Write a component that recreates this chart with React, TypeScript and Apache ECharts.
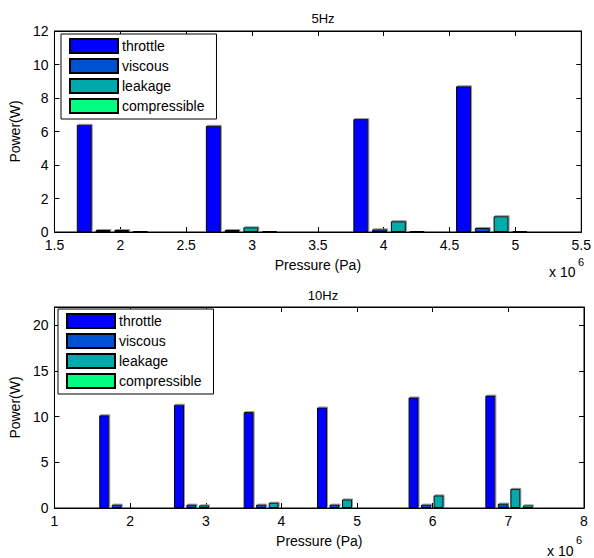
import React, { useEffect, useRef } from "react";
import * as echarts from "echarts";

// ---- data ----
const seriesNames = ["throttle", "viscous", "leakage", "compressible"];
const seriesColors = ["#0000FF", "#0050D2", "#00AAAA", "#00FF80"];

// 5 Hz (pressure in Pa, power in W)
const pressures5Hz = [1.94e6, 2.92e6, 4.04e6, 4.82e6];
const throttle5Hz = [6.4, 6.34, 6.74, 8.7];
const viscous5Hz = [0.12, 0.12, 0.16, 0.24];
const leakage5Hz = [0.12, 0.28, 0.64, 0.94];
const compressible5Hz = [0.06, 0.06, 0.06, 0.06];

// 10 Hz
const pressures10Hz = [1.906e6, 2.894e6, 3.815e6, 4.785e6, 5.995e6, 7.01e6];
const throttle10Hz = [10.15, 11.3, 10.5, 11.0, 12.1, 12.3];
const viscous10Hz = [0.37, 0.37, 0.37, 0.37, 0.37, 0.48];
const leakage10Hz = [0.1, 0.29, 0.58, 0.94, 1.38, 2.1];
const compressible10Hz = [0.05, 0.05, 0.05, 0.05, 0.05, 0.29];

const FONT = "'Liberation Sans', Arial, Helvetica, sans-serif";

function makeSeries(
  pressures: number[],
  values: number[][],
  axisIndex: number,
  barWidth: number
) {
  return values.map((vals, i) => ({
    type: "bar",
    name: seriesNames[i],
    xAxisIndex: axisIndex * 2,
    yAxisIndex: axisIndex * 2,
    barWidth,
    barGap: "25%",
    data: pressures.map((p, k) => [p, vals[k]]),
    itemStyle: {
      color: seriesColors[i],
      borderColor: "#000",
      borderWidth: 1,
      shadowColor: "rgba(140,140,140,0.9)",
      shadowOffsetX: 1,
      shadowOffsetY: -1,
      shadowBlur: 0,
    },
  }));
}

function xAxes(gridIndex: number, min: number, max: number, interval: number) {
  const base = {
    type: "value",
    gridIndex,
    min,
    max,
    interval,
    splitLine: { show: false },
    axisTick: { show: true, inside: true, length: 5, lineStyle: { color: "#000" } },
    axisLine: { show: true, onZero: false, lineStyle: { color: "#000", width: 1 } },
  };
  return [
    {
      ...base,
      position: "bottom",
      name: "Pressure (Pa)",
      nameLocation: "middle",
      nameGap: 26,
      nameTextStyle: { color: "#000", fontSize: 14, fontFamily: FONT },
      axisLabel: {
        color: "#000",
        fontSize: 14,
        fontFamily: FONT,
        margin: 6,
        formatter: (v: number) => String(+(v / 1e6).toFixed(2)),
      },
    },
    { ...base, position: "top", axisLabel: { show: false } },
  ];
}

function yAxes(gridIndex: number, min: number, max: number, interval: number) {
  const base = {
    type: "value",
    gridIndex,
    min,
    max,
    interval,
    splitLine: { show: false },
    axisTick: { show: true, inside: true, length: 5, lineStyle: { color: "#000" } },
    axisLine: { show: true, onZero: false, lineStyle: { color: "#000", width: 1 } },
  };
  return [
    {
      ...base,
      position: "left",
      name: "Power(W)",
      nameLocation: "middle",
      nameGap: 29,
      nameTextStyle: { color: "#000", fontSize: 14, fontFamily: FONT },
      axisLabel: {
        color: "#000",
        fontSize: 14,
        fontFamily: FONT,
        margin: 6,
        showMaxLabel: max % interval === 0,
      },
    },
    { ...base, position: "right", axisLabel: { show: false } },
  ];
}

function legend(left: number, top: number) {
  return {
    orient: "vertical",
    left,
    top,
    data: seriesNames,
    icon: "rect",
    itemWidth: 48,
    itemHeight: 14,
    itemGap: 4,
    padding: [4, 12, 5, 8],
    backgroundColor: "#fff",
    borderColor: "#000",
    borderWidth: 1,
    borderRadius: 0,
    selectedMode: false,
    textStyle: { color: "#000", fontSize: 14, fontFamily: FONT, padding: [0, 0, 0, -1] },
  };
}

export default function App() {
  const ref = useRef<HTMLDivElement>(null);
  useEffect(() => {
    if (!ref.current) return;
    const chart = echarts.init(ref.current, undefined, { renderer: "svg" });
    chart.setOption({
      animation: false,
      backgroundColor: "#fff",
      title: [
        {
          text: "5Hz",
          left: 318,
          top: 7,
          textAlign: "center",
          textStyle: { color: "#000", fontSize: 13, fontWeight: "normal", fontFamily: FONT },
        },
        {
          text: "10Hz",
          left: 318,
          top: 284,
          textAlign: "center",
          textStyle: { color: "#000", fontSize: 13, fontWeight: "normal", fontFamily: FONT },
        },
      ],
      grid: [
        { left: 53, top: 31, width: 531, height: 201, show: true, borderColor: "#000", borderWidth: 1, backgroundColor: "#fff" },
        { left: 53, top: 307, width: 531, height: 201, show: true, borderColor: "#000", borderWidth: 1, backgroundColor: "#fff" },
      ],
      xAxis: [...xAxes(0, 1.5e6, 5.5e6, 0.5e6), ...xAxes(1, 1e6, 8e6, 1e6)],
      yAxis: [...yAxes(0, 0, 12, 2), ...yAxes(1, 0, 22, 5)],
      legend: [legend(61, 34), legend(58, 309)],
      series: [
        ...makeSeries(pressures5Hz, [throttle5Hz, viscous5Hz, leakage5Hz, compressible5Hz], 0, 15),
        ...makeSeries(pressures10Hz, [throttle10Hz, viscous10Hz, leakage10Hz, compressible10Hz], 1, 10),
      ],
      graphic: [
        { type: "text", left: 549, top: 265, style: { text: "x 10", fontSize: 14, fontFamily: FONT, fill: "#000" } },
        { type: "text", left: 578, top: 256, style: { text: "6", fontSize: 11, fontFamily: FONT, fill: "#000" } },
        { type: "text", left: 547, top: 544, style: { text: "x 10", fontSize: 14, fontFamily: FONT, fill: "#000" } },
        { type: "text", left: 576, top: 534, style: { text: "6", fontSize: 11, fontFamily: FONT, fill: "#000" } },
      ],
    });
    return () => chart.dispose();
  }, []);
  return (
    <div
      ref={ref}
      style={{ position: "fixed", left: 0, top: 0, width: 594, height: 558, background: "#fff" }}
    />
  );
}
